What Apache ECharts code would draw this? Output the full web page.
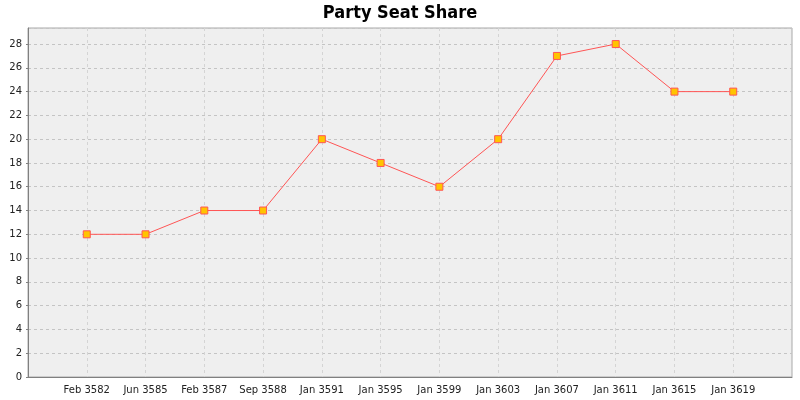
<!DOCTYPE html>
<html><head><meta charset="utf-8">
<script src="https://cdn.jsdelivr.net/npm/echarts@6/dist/echarts.min.js"></script>
<style>html,body{margin:0;padding:0;background:#fff}#c{width:800px;height:400px}</style>
</head><body><div id="c"></div>
<script>
const categories = ['Feb 3582','Jun 3585','Feb 3587','Sep 3588','Jan 3591','Jan 3595','Jan 3599','Jan 3603','Jan 3607','Jan 3611','Jan 3615','Jan 3619'];
const seats = [12,12,14,14,20,18,16,20,27,28,24,24];
const chartTitle = 'Party Seat Share';

const chart = echarts.init(document.getElementById('c'), null, {renderer:'canvas'});
chart.setOption({
  backgroundColor:'#ffffff',
  animation:false,
  title:{text:chartTitle,left:'center',top:-1,textStyle:{fontFamily:'DejaVu Sans Condensed',fontWeight:'bold',fontSize:18,color:'#000'}},
  grid:{left:28,right:8,top:28,bottom:23,show:true,backgroundColor:'#efefef',borderColor:'#a8a8a8',borderWidth:1},
  xAxis:{type:'value',min:-1,max:12,interval:1,
    axisLine:{show:true,onZero:false,lineStyle:{color:'#808080'}},
    axisTick:{show:false},
    axisLabel:{fontFamily:'DejaVu Sans',fontSize:10,color:'#222',margin:8,
      formatter:v=>categories[v]!==undefined?categories[v]:''},
    splitLine:{show:true,lineStyle:{color:'#d4d4d4',type:[3,3],width:1}}},
  yAxis:{type:'value',min:0,max:29.35,interval:2,
    axisLine:{show:true,onZero:false,lineStyle:{color:'#808080'}},
    axisTick:{show:true,length:2,lineStyle:{color:'#808080'}},
    axisLabel:{fontFamily:'DejaVu Sans',fontSize:10,color:'#222',margin:6,showMaxLabel:false,
      formatter:v=>(v%2===0?String(v):'')},
    splitLine:{show:true,lineStyle:{color:'#c4c4c4',type:[3,3],width:1}}},
  series:[{type:'line',data:seats.map((v,i)=>[i,v]),
    symbol:'rect',symbolSize:7,showAllSymbol:true,
    lineStyle:{color:'#ff5555',width:1},
    itemStyle:{color:'#ffc400',borderColor:'#ff5555',borderWidth:1}}]
});
</script></body></html>
